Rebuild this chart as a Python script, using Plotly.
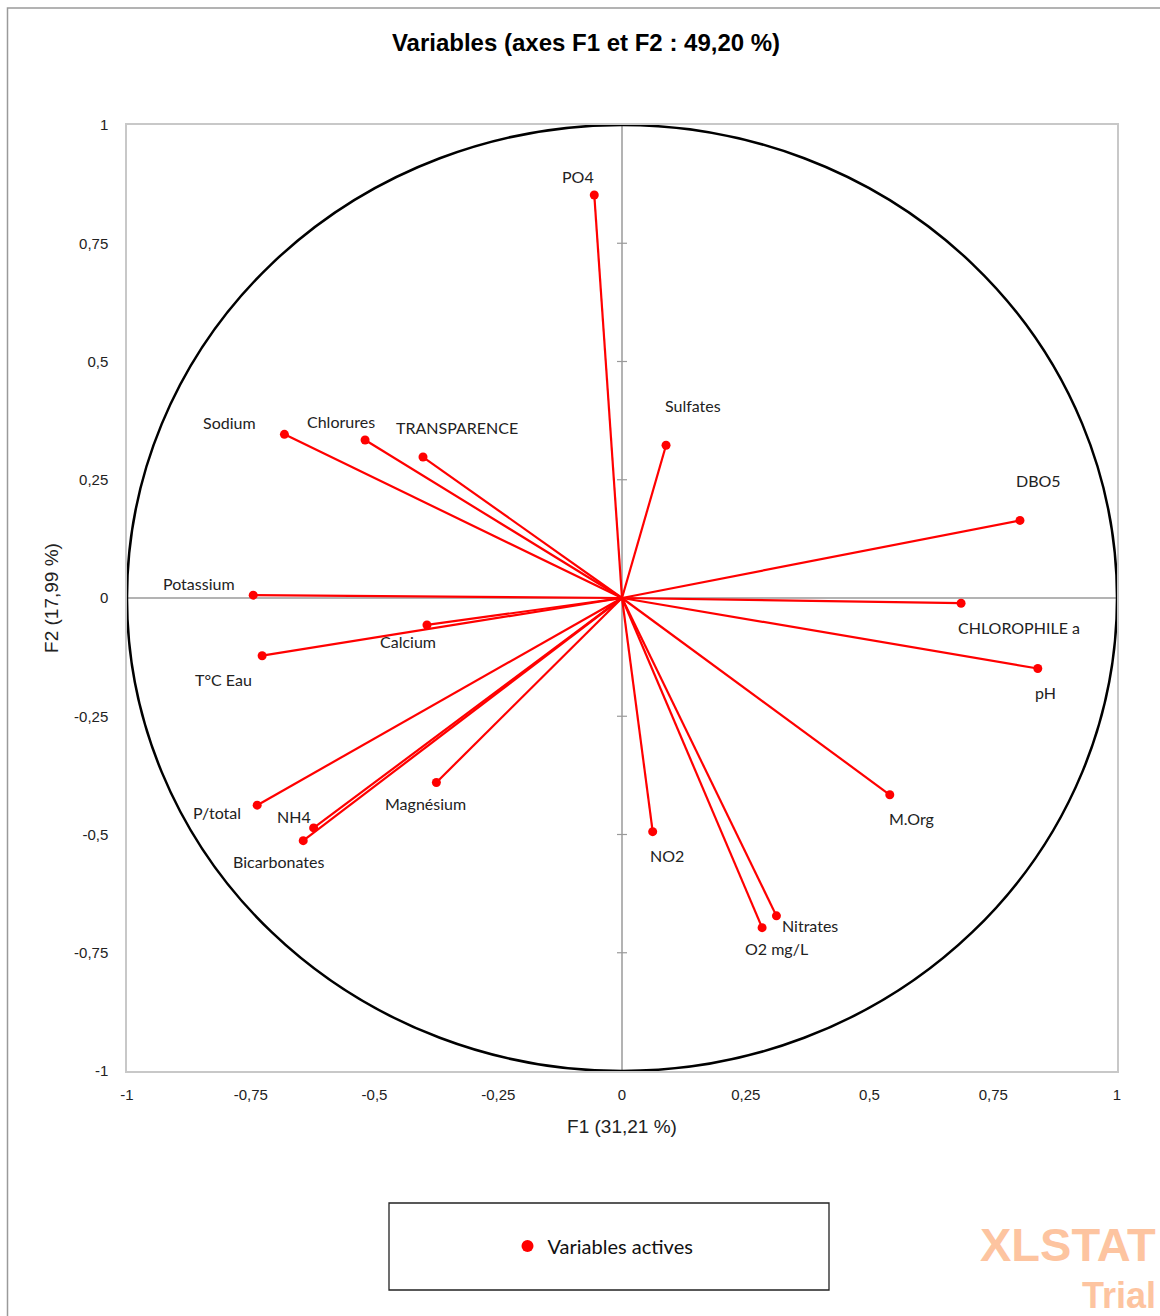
import plotly.graph_objects as go

# Correlation circle: coordinates of the active variables on F1 and F2
variables = [
    "PO4", "Sulfates", "Sodium", "Chlorures", "TRANSPARENCE", "DBO5",
    "Potassium", "CHLOROPHILE a", "Calcium", "T°C Eau", "pH", "M.Org",
    "Magnésium", "P/total", "NH4", "Bicarbonates", "NO2", "Nitrates", "O2 mg/L",
]
f1 = [-0.056, 0.089, -0.682, -0.519, -0.402, 0.804,
      -0.745, 0.685, -0.394, -0.727, 0.840, 0.541,
      -0.375, -0.737, -0.623, -0.644, 0.062, 0.312, 0.283]
f2 = [0.852, 0.323, 0.346, 0.334, 0.298, 0.164,
      0.006, -0.011, -0.057, -0.122, -0.149, -0.416,
      -0.390, -0.438, -0.486, -0.513, -0.494, -0.672, -0.697]

tick_vals = [-1, -0.75, -0.5, -0.25, 0, 0.25, 0.5, 0.75, 1]
tick_text = ["-1", "-0,75", "-0,5", "-0,25", "0", "0,25", "0,5", "0,75", "1"]

# Label placement around each point, in pixels (dx right, dy up)
label_shift = {
    "PO4": (-16, 19), "Sulfates": (27, 40), "Sodium": (-55, 12),
    "Chlorures": (-24, 19), "TRANSPARENCE": (34, 30), "DBO5": (19, 40),
    "Potassium": (-54, 12), "CHLOROPHILE a": (58, -24), "Calcium": (-19, -17),
    "T°C Eau": (-39, -24), "pH": (8, -24), "M.Org": (22, -24),
    "Magnésium": (-11, -21), "P/total": (-40, -7), "NH4": (-20, 11),
    "Bicarbonates": (-25, -21), "NO2": (14, -24), "Nitrates": (34, -10),
    "O2 mg/L": (14, -21),
}

RED = "#FF0000"
LABEL_FONT = dict(family="Lato, 'Open Sans', sans-serif", size=16, color="#222222")

# Vectors from the origin to each variable
lx, ly = [], []
for x, y in zip(f1, f2):
    lx += [0, x, None]
    ly += [0, y, None]

fig = go.Figure()
fig.add_trace(go.Scatter(x=lx, y=ly, mode="lines",
                         line=dict(color=RED, width=2.2),
                         hoverinfo="skip", showlegend=False))
fig.add_trace(go.Scatter(x=f1, y=f2, mode="markers", name="Variables actives",
                         text=variables,
                         marker=dict(color=RED, size=9)))

annotations = []
for name, x, y in zip(variables, f1, f2):
    dx, dy = label_shift[name]
    annotations.append(dict(x=x, y=y, xref="x", yref="y", text=name,
                            showarrow=False, xshift=dx, yshift=dy,
                            font=LABEL_FONT))

# Watermark
annotations += [
    dict(xref="paper", yref="paper", x=(1158 - 127) / 990, y=(1071 - 1244) / 946,
         xanchor="right", yanchor="middle", text="<b>XLSTAT</b>", showarrow=False,
         font=dict(family="Liberation Sans, Arial", size=47, color="#FDC4A0")),
    dict(xref="paper", yref="paper", x=(1158 - 127) / 990, y=(1071 - 1295) / 946,
         xanchor="right", yanchor="middle", text="<b>Trial</b>", showarrow=False,
         font=dict(family="Liberation Sans, Arial", size=36, color="#FDC4A0")),
]

shapes = [
    # outer chart frame
    dict(type="rect", xref="paper", yref="paper",
         x0=(7.5 - 127) / 990, x1=(1175 - 127) / 990,
         y0=(1071 - 1330) / 946, y1=(1071 - 8) / 946,
         line=dict(color="#9A9A9A", width=1.5), layer="below"),
    # legend box
    dict(type="rect", xref="paper", yref="paper",
         x0=(389 - 127) / 990, x1=(829 - 127) / 990,
         y0=(1071 - 1290) / 946, y1=(1071 - 1203) / 946,
         line=dict(color="#222222", width=1.3), layer="below"),
    # zero axes
    dict(type="line", xref="x", yref="paper", x0=0, x1=0, y0=0, y1=1,
         line=dict(color="#9A9A9A", width=1.5), layer="below"),
    dict(type="line", xref="paper", yref="y", x0=0, x1=1, y0=0, y1=0,
         line=dict(color="#9A9A9A", width=1.5), layer="below"),
    # unit circle
    dict(type="circle", xref="x", yref="y", x0=-1, y0=-1, x1=1, y1=1,
         line=dict(color="black", width=2.5), layer="below"),
]
# tick marks crossing the vertical zero axis
for t in tick_vals:
    if abs(t) in (0, 1):
        continue
    shapes.append(dict(type="line", xref="x", yref="y", xsizemode="pixel", xanchor=0,
                       x0=-5, x1=5, y0=t, y1=t,
                       line=dict(color="#9A9A9A", width=1.2), layer="below"))

axis_common = dict(
    range=[-1, 1], tickvals=tick_vals, ticktext=tick_text,
    showgrid=False, zeroline=False, ticks="",
    showline=True, linecolor="#C8C8C8", linewidth=1.5, mirror=True,
    tickfont=dict(family="Liberation Sans, Arial", size=15, color="#222222"),
)

fig.update_layout(
    width=1160, height=1316,
    margin=dict(l=127, r=43, t=125, b=245),
    paper_bgcolor="white", plot_bgcolor="white",
    title=dict(text="<b>Variables (axes F1 et F2 : 49,20 %)</b>",
               x=586 / 1160, xanchor="center", y=1 - 43 / 1316, yanchor="middle",
               font=dict(family="Liberation Sans, Arial", size=24, color="black")),
    xaxis=dict(**axis_common, ticklabelstandoff=9,
               title=dict(text="F1 (31,21 %)", standoff=18,
                          font=dict(family="Liberation Sans, Arial", size=19, color="#222222"))),
    yaxis=dict(**axis_common, ticklabelstandoff=14,
               title=dict(text="F2 (17,99 %)", standoff=10,
                          font=dict(family="Liberation Sans, Arial", size=19, color="#222222"))),
    showlegend=True,
    legend=dict(x=(603 - 127) / 990, y=(1071 - 1246) / 946,
                xanchor="center", yanchor="middle",
                bgcolor="rgba(0,0,0,0)", borderwidth=0,
                font=dict(family="Lato, 'Open Sans', sans-serif", size=20, color="#111111"),
                itemsizing="constant"),
    shapes=shapes,
    annotations=annotations,
)

fig.write_html("out.html")
